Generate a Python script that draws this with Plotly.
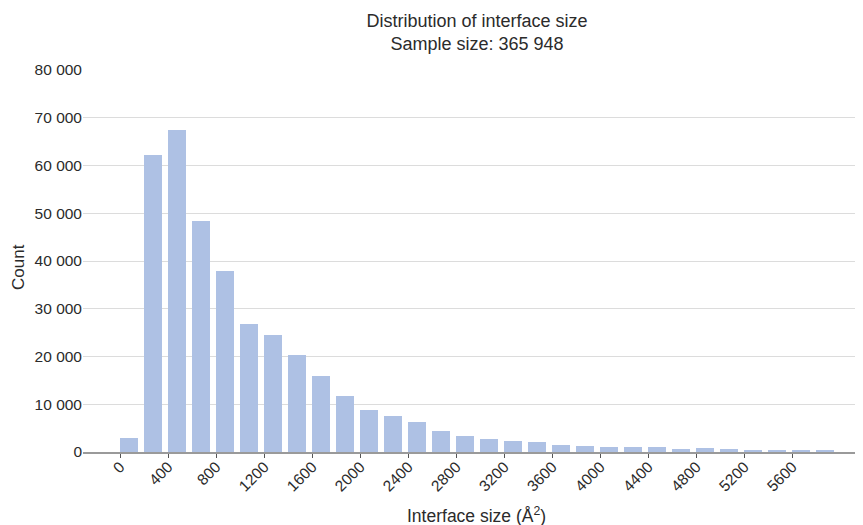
import plotly.graph_objects as go

bin_starts = [0, 200, 400, 600, 800, 1000, 1200, 1400, 1600, 1800,
              2000, 2200, 2400, 2600, 2800, 3000, 3200, 3400, 3600, 3800,
              4000, 4200, 4400, 4600, 4800, 5000, 5200, 5400, 5600, 5800]
counts = [2900, 62300, 67500, 48300, 37900, 26800, 24500, 20400, 16000, 11800,
          8900, 7600, 6300, 4500, 3350, 2700, 2300, 2200, 1400, 1300,
          1100, 1000, 1100, 650, 850, 600, 350, 350, 350, 300]
x_tickvals = [0, 400, 800, 1200, 1600, 2000, 2400, 2800, 3200, 3600, 4000, 4400, 4800, 5200, 5600]
y_tickvals = [0, 10000, 20000, 30000, 40000, 50000, 60000, 70000, 80000]

title_text = "Distribution of interface size<br>Sample size: 365 948"
x_title = "Interface size (Å<sup>2</sup>)"
y_title = "Count"

FONT = "Liberation Sans, Arial, sans-serif"
TXT = "#2b2b2b"

# page body has an 8px margin: figure is sized/offset to compensate
W, H = 855, 517

fig = go.Figure(go.Bar(
    x=bin_starts, y=counts, width=150, offset=0,
    marker=dict(color="#aec1e4", line=dict(width=0)),
))

fig.update_layout(
    width=W, height=H,
    margin=dict(l=75, r=1, t=62, b=73),
    paper_bgcolor="white", plot_bgcolor="white",
    separators=". ",
    font=dict(family=FONT, color=TXT, size=15),
    title=dict(text=title_text, x=469 / W, xanchor="center",
               yref="container", y=1 - 19 / H, yanchor="top",
               font=dict(size=18, color=TXT)),
    showlegend=False,
    bargap=0,
    annotations=[
        dict(text=x_title, xref="paper", yref="paper", x=0.5, y=0,
             xanchor="center", yanchor="middle", xshift=4, yshift=-63,
             showarrow=False, font=dict(size=17.5, color=TXT)),
        dict(text=y_title, xref="paper", yref="paper", x=0, y=0.5,
             xanchor="center", yanchor="middle", xshift=-65, yshift=-6,
             textangle=-90, showarrow=False, font=dict(size=17, color=TXT)),
    ],
)
fig.update_xaxes(
    range=[-310, 6180],
    tickvals=x_tickvals, tickformat="d", tickangle=-45,
    ticks="outside", ticklen=4, tickcolor="#555", tickwidth=1,
    ticklabelstandoff=-6,
    showgrid=False, showline=True, linecolor="#9a9a9a", linewidth=1.5,
    zeroline=False, automargin=False,
    tickfont=dict(size=15.5),
)
fig.update_yaxes(
    range=[0, 80000],
    tickvals=y_tickvals, tickformat=",",
    showgrid=True, gridcolor="#dcdcdc", gridwidth=1.2,
    zeroline=False, showline=False, ticks="", automargin=False,
    tickfont=dict(size=15.5),
)

fig.write_html("out.html")
